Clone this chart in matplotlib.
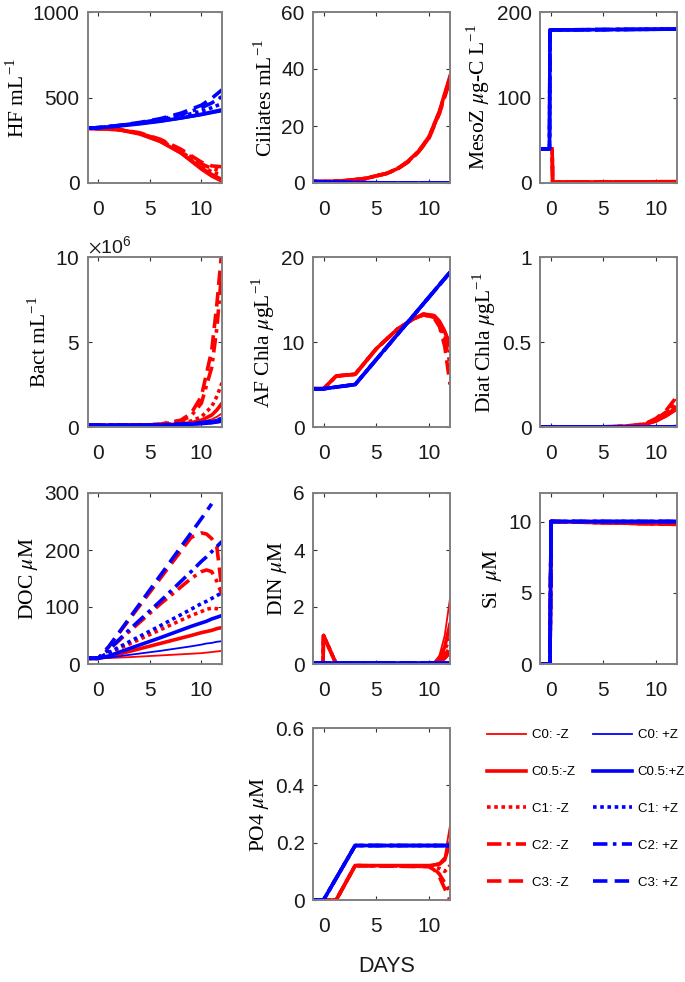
import numpy as np
import matplotlib
matplotlib.use('Agg')
import matplotlib.pyplot as plt
from matplotlib.lines import Line2D
from matplotlib.ticker import FuncFormatter

plt.rcParams['font.family'] = ['Liberation Sans', 'DejaVu Sans']
plt.rcParams['mathtext.fontset'] = 'stix'

# series order: C0, C0.5, C1, C2, C3 ; red = -Z, blue = +Z
labels_minus = ['C0: -Z', 'C0.5:-Z', 'C1: -Z', 'C2: -Z', 'C3: -Z']
labels_plus = ['C0: +Z', 'C0.5:+Z', 'C1: +Z', 'C2: +Z', 'C3: +Z']

# HF mL-1
hf_days = [-1, 0, 2, 4, 6, 8, 10, 11, 12]
hf_minus = [
    [320, 318, 310, 285, 240, 170, 75, 35, 5],
    [320, 318, 311, 287, 243, 177, 88, 50, 20],
    [320, 318, 312, 290, 248, 185, 100, 65, 45],
    [320, 318, 312, 292, 252, 192, 112, 85, 70],
    [320, 318, 313, 294, 256, 198, 122, 100, 95],
]
hf_plus = [
    [320, 323, 332, 344, 358, 375, 395, 407, 418],
    [320, 323, 333, 346, 361, 380, 402, 415, 428],
    [320, 324, 335, 349, 367, 390, 420, 440, 465],
    [320, 324, 336, 352, 372, 400, 440, 468, 505],
    [320, 324, 337, 354, 376, 408, 455, 495, 545],
]

# Ciliates mL-1
cil_days = [-1, 0, 2, 4, 6, 7, 8, 9, 10, 11, 12]
cil_minus = [
    [0.5, 0.5, 0.8, 1.6, 3.5, 5.1, 7.7, 11.3, 16.5, 25.5, 38],
    [0.5, 0.5, 0.8, 1.6, 3.4, 5.0, 7.6, 11.1, 16.2, 25.2, 37.5],
    [0.5, 0.5, 0.8, 1.6, 3.4, 5.0, 7.5, 11.0, 16.0, 25.0, 37],
    [0.5, 0.5, 0.8, 1.6, 3.4, 4.9, 7.4, 10.9, 15.8, 24.7, 36.5],
    [0.5, 0.5, 0.8, 1.6, 3.3, 4.9, 7.3, 10.8, 15.6, 24.4, 36],
]
cil_plus = [[0.5, 0.4, 0.2, 0.1, 0.05, 0.03, 0.02, 0.01, 0.01, 0.01, 0.0]] * 5

# MesoZ ug-C L-1
mz_days_minus = [-1, 0.15, 0.2, 12]
mz_minus = [[40, 40, 1, 1.5]] * 5
mz_days_plus = [-1, -0.1, -0.05, 12]
mz_plus = [[40, 40, 179, 180]] * 5

# Bact mL-1
bact_days = [-1, 0, 2, 4, 6, 8, 9, 10, 11, 11.5, 12]
bact_minus = [
    [0.1e6, 0.1e6, 0.1e6, 0.1e6, 0.11e6, 0.15e6, 0.2e6, 0.28e6, 0.45e6, 0.6e6, 0.8e6],
    [0.1e6, 0.1e6, 0.1e6, 0.1e6, 0.12e6, 0.18e6, 0.25e6, 0.4e6, 0.7e6, 1.0e6, 1.4e6],
    [0.1e6, 0.1e6, 0.1e6, 0.1e6, 0.13e6, 0.22e6, 0.35e6, 0.6e6, 1.2e6, 1.8e6, 2.6e6],
    [0.1e6, 0.1e6, 0.1e6, 0.11e6, 0.15e6, 0.35e6, 0.65e6, 1.4e6, 3.5e6, 5.8e6, 9.3e6],
    [0.1e6, 0.1e6, 0.1e6, 0.11e6, 0.17e6, 0.4e6, 0.8e6, 1.8e6, 4.5e6, 7.2e6, 10.5e6],
]
bact_plus = [
    [0.1e6, 0.1e6, 0.1e6, 0.1e6, 0.11e6, 0.13e6, 0.15e6, 0.18e6, 0.22e6, 0.26e6, 0.3e6],
    [0.1e6, 0.1e6, 0.1e6, 0.1e6, 0.11e6, 0.14e6, 0.16e6, 0.2e6, 0.25e6, 0.3e6, 0.35e6],
    [0.1e6, 0.1e6, 0.1e6, 0.1e6, 0.12e6, 0.15e6, 0.18e6, 0.22e6, 0.28e6, 0.34e6, 0.4e6],
    [0.1e6, 0.1e6, 0.1e6, 0.1e6, 0.12e6, 0.16e6, 0.19e6, 0.24e6, 0.31e6, 0.38e6, 0.45e6],
    [0.1e6, 0.1e6, 0.1e6, 0.1e6, 0.12e6, 0.17e6, 0.2e6, 0.26e6, 0.34e6, 0.42e6, 0.5e6],
]

# AF Chla ug L-1
af_days_plus = [-1, 0, 3, 12]
af_plus = [[4.5, 4.5, 5.0, 18.2]] * 5
af_days_minus = [-1, 0, 1.2, 3, 5, 7, 8.5, 9.5, 10.5, 11, 11.5, 12]
af_minus = [
    [4.5, 4.5, 6.0, 6.2, 9.2, 11.5, 12.7, 13.3, 13.2, 12.6, 11.5, 10.0],
    [4.5, 4.5, 6.0, 6.2, 9.2, 11.5, 12.7, 13.3, 13.1, 12.4, 11.2, 9.5],
    [4.5, 4.5, 6.0, 6.2, 9.2, 11.5, 12.7, 13.3, 13.0, 12.2, 10.8, 8.8],
    [4.5, 4.5, 6.0, 6.2, 9.2, 11.5, 12.7, 13.2, 12.9, 12.0, 10.2, 7.5],
    [4.5, 4.5, 6.0, 6.2, 9.2, 11.5, 12.7, 13.2, 12.8, 11.8, 9.5, 5.0],
]

# Diat Chla ug L-1
diat_days = [-1, 0, 4, 6, 8, 9, 10, 11, 12]
diat_minus = [
    [0, 0, 0, 0.002, 0.008, 0.015, 0.03, 0.06, 0.10],
    [0, 0, 0, 0.002, 0.008, 0.016, 0.035, 0.07, 0.12],
    [0, 0, 0, 0.002, 0.009, 0.018, 0.04, 0.08, 0.14],
    [0, 0, 0, 0.002, 0.009, 0.019, 0.045, 0.09, 0.16],
    [0, 0, 0, 0.002, 0.010, 0.020, 0.05, 0.10, 0.18],
]
diat_plus = [[0, 0, 0, 0, 0, 0, 0, 0, 0.002]] * 5

# DOC uM
doc_days = [-1, 0, 1, 3, 6, 9, 10, 10.5, 11, 11.5, 12]
doc_minus = [
    [10, 10, 10.5, 12, 15, 18, 19, 20, 21, 22, 23],
    [10, 10, 13, 22, 36, 50, 55, 57, 59, 62, 64],
    [10, 10, 19, 35, 60, 85, 92, 96, 98, 97, 95],
    [10, 10, 25, 57, 105, 150, 162, 165, 162, 145, 122],
    [10, 10, 30, 78, 150, 222, 230, 228, 220, 205, 130],
]
doc_plus = [
    [10, 10, 11, 16, 23, 31, 34, 36, 37, 39, 40],
    [10, 10, 14, 27, 46, 66, 72, 75, 79, 82, 85],
    [10, 10, 20, 39, 67, 96, 106, 110, 115, 120, 125],
    [10, 10, 25, 60, 110, 162, 180, 188, 197, 206, 215],
    [10, 10, 30, 80, 155, 230, 255, 268, 281, np.nan, np.nan],
]

# DIN uM
din_days = [-1, -0.05, 0, 1.2, 6, 10, 10.5, 11, 11.5, 12]
din_minus = [
    [0, 0, 1.0, 0, 0, 0, 0.05, 0.3, 1.0, 2.3],
    [0, 0, 1.0, 0, 0, 0, 0.03, 0.2, 0.6, 1.4],
    [0, 0, 1.0, 0, 0, 0, 0.02, 0.15, 0.5, 0.9],
    [0, 0, 1.0, 0, 0, 0, 0.02, 0.1, 0.3, 0.6],
    [0, 0, 1.0, 0, 0, 0, 0.01, 0.05, 0.2, 0.4],
]
din_plus = [[0.05, 0.05, 0.05, 0.05, 0.05, 0.05, 0.05, 0.05, 0.05, 0.05]] * 5

# Si uM
si_days = [-1, -0.05, 0.05, 12]
si_minus = [[0, 0, 10, 9.8]] * 5
si_plus = [[0, 0, 10, 10]] * 5

# PO4 uM
po4_days_plus = [-1, 0, 3, 12]
po4_plus = [[0, 0, 0.19, 0.19]] * 5
po4_days_minus = [-1, 1.2, 3, 10, 10.5, 11, 11.5, 12]
po4_minus = [
    [0, 0, 0.12, 0.12, 0.125, 0.13, 0.15, 0.26],
    [0, 0, 0.12, 0.12, 0.122, 0.125, 0.14, 0.2],
    [0, 0, 0.12, 0.118, 0.115, 0.11, 0.1, 0.12],
    [0, 0, 0.12, 0.117, 0.11, 0.09, 0.06, 0.03],
    [0, 0, 0.12, 0.116, 0.105, 0.08, 0.04, 0.0],
]

styles = ['-', '-', (0, (1, 1)), (0, (4, 1.5, 1, 1.5)), (0, (4, 2))]
widths = [1.3, 2.6, 2.6, 2.6, 2.6]
RED = '#ff0000'
BLUE = '#0000ff'
GREY = '#808080'
TXT = '#1a1a1a'

fig = plt.figure(figsize=(6.85, 9.82), dpi=100)
W, H = 685, 982


def make_ax(left, top, right, bottom):
    return fig.add_axes([left / W, 1 - bottom / H, (right - left) / W, (bottom - top) / H])


def style_ax(ax, ylim, yticks, ylabel, fmt=None):
    ax.set_xlim(-1, 12)
    ax.set_xticks([0, 5, 10])
    ax.set_ylim(*ylim)
    ax.set_yticks(yticks)
    if fmt is not None:
        ax.yaxis.set_major_formatter(FuncFormatter(lambda v, p: '%g' % v))
    for s in ax.spines.values():
        s.set_color(GREY)
        s.set_linewidth(1.4)
    ax.tick_params(direction='in', top=True, right=True, length=3, width=0.8,
                   color='#333333', labelsize=15, labelcolor=TXT)
    ax.tick_params(axis='x', pad=12)
    ax.tick_params(axis='y', pad=6)
    ax.set_ylabel(ylabel, family='Liberation Serif', fontsize=15.5, labelpad=3)


def draw(ax, days_m, minus, days_p, plus):
    for i in range(5):
        ax.plot(days_m, minus[i], color=RED, ls=styles[i], lw=widths[i])
    for i in range(5):
        ax.plot(days_p, plus[i], color=BLUE, ls=styles[i], lw=widths[i])


cols = [(88, 222), (313, 450), (540, 677)]
rows = [(12, 183), (257, 427), (493, 664), (728, 900)]

ax = make_ax(cols[0][0], rows[0][0], cols[0][1], rows[0][1])
draw(ax, hf_days, hf_minus, hf_days, hf_plus)
style_ax(ax, (0, 1000), [0, 500, 1000], r'HF mL$^{\mathregular{-1}}$')

ax = make_ax(cols[1][0], rows[0][0], cols[1][1], rows[0][1])
draw(ax, cil_days, cil_minus, cil_days, cil_plus)
style_ax(ax, (0, 60), [0, 20, 40, 60], r'Ciliates mL$^{\mathregular{-1}}$')

ax = make_ax(cols[2][0], rows[0][0], cols[2][1], rows[0][1])
draw(ax, mz_days_minus, mz_minus, mz_days_plus, mz_plus)
style_ax(ax, (0, 200), [0, 100, 200], r'MesoZ $\mu$g-C L$^{\mathregular{-1}}$')

ax = make_ax(cols[0][0], rows[1][0], cols[0][1], rows[1][1])
draw(ax, bact_days, bact_minus, bact_days, bact_plus)
style_ax(ax, (0, 1e7), [0, 5e6, 1e7], r'Bact mL$^{\mathregular{-1}}$')
ax.ticklabel_format(style='sci', axis='y', scilimits=(6, 6), useMathText=True)
ax.yaxis.get_offset_text().set_fontsize(14)
ax.yaxis.get_offset_text().set_color(TXT)

ax = make_ax(cols[1][0], rows[1][0], cols[1][1], rows[1][1])
draw(ax, af_days_minus, af_minus, af_days_plus, af_plus)
style_ax(ax, (0, 20), [0, 10, 20], r'AF Chla $\mu$gL$^{\mathregular{-1}}$')

ax = make_ax(cols[2][0], rows[1][0], cols[2][1], rows[1][1])
draw(ax, diat_days, diat_minus, diat_days, diat_plus)
style_ax(ax, (0, 1), [0, 0.5, 1], r'Diat Chla $\mu$gL$^{\mathregular{-1}}$', fmt=True)

ax = make_ax(cols[0][0], rows[2][0], cols[0][1], rows[2][1])
draw(ax, doc_days, doc_minus, doc_days, doc_plus)
style_ax(ax, (0, 300), [0, 100, 200, 300], r'DOC $\mu$M')

ax = make_ax(cols[1][0], rows[2][0], cols[1][1], rows[2][1])
draw(ax, din_days, din_minus, din_days, din_plus)
style_ax(ax, (0, 6), [0, 2, 4, 6], r'DIN $\mu$M')

ax = make_ax(cols[2][0], rows[2][0], cols[2][1], rows[2][1])
draw(ax, si_days, si_minus, si_days, si_plus)
style_ax(ax, (0, 12), [0, 5, 10], r'Si  $\mu$M')

ax = make_ax(cols[1][0], rows[3][0], cols[1][1], rows[3][1])
draw(ax, po4_days_minus, po4_minus, po4_days_plus, po4_plus)
style_ax(ax, (0, 0.6), [0, 0.2, 0.4, 0.6], r'PO4 $\mu$M', fmt=True)

fig.text(387 / W, 1 - 966 / H, 'DAYS', ha='center', va='center', fontsize=15.5, color=TXT)

handles = [Line2D([], [], color=RED, ls=styles[i], lw=widths[i]) for i in range(5)]
handles += [Line2D([], [], color=BLUE, ls=styles[i], lw=widths[i]) for i in range(5)]
fig.legend(handles, labels_minus + labels_plus, ncol=2, frameon=False,
           loc='upper left', bbox_to_anchor=(487 / W, 1 - 729 / H),
           borderpad=0, borderaxespad=0, fontsize=9.5, handlelength=2.95,
           handletextpad=0.45, labelspacing=1.87, columnspacing=1.3)

fig.savefig('out.png', dpi=100)
